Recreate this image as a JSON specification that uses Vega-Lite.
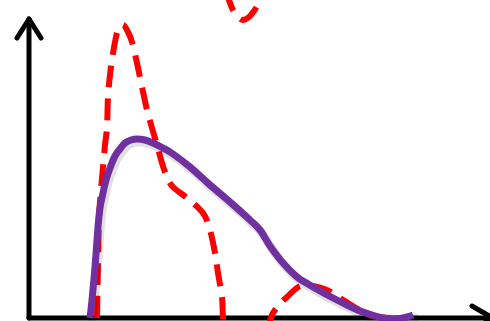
{
  "$schema": "https://vega.github.io/schema/vega-lite/v6.json",
  "width": 490,
  "height": 321,
  "padding": 0,
  "autosize": {"type": "none"},
  "background": "white",
  "config": {"view": {"stroke": null}},
  "datasets": {
    "axes": [
      {"seg": "yaxis", "i": 0, "x": 0, "y": 0},
      {"seg": "yaxis", "i": 1, "x": 0, "y": 29.9},
      {"seg": "yarrow", "i": 0, "x": -1.2, "y": 28.0},
      {"seg": "yarrow", "i": 1, "x": 0, "y": 29.9},
      {"seg": "yarrow", "i": 2, "x": 1.2, "y": 28.0},
      {"seg": "xaxis", "i": 0, "x": 0, "y": 0},
      {"seg": "xaxis", "i": 1, "x": 46.4, "y": 0},
      {"seg": "xarrow", "i": 0, "x": 44.3, "y": 1.2},
      {"seg": "xarrow", "i": 1, "x": 46.4, "y": 0},
      {"seg": "xarrow", "i": 2, "x": 44.3, "y": -1.2}
    ],
    "red": [
      {"seg": "main", "i": 0, "x": 6.8, "y": 0},
      {"seg": "main", "i": 1, "x": 6.85, "y": 2.8},
      {"seg": "main", "i": 2, "x": 6.9, "y": 5.8},
      {"seg": "main", "i": 3, "x": 7.0, "y": 10.1},
      {"seg": "main", "i": 4, "x": 7.2, "y": 12.8},
      {"seg": "main", "i": 5, "x": 7.4, "y": 15.1},
      {"seg": "main", "i": 6, "x": 7.6, "y": 17.3},
      {"seg": "main", "i": 7, "x": 7.8, "y": 19.1},
      {"seg": "main", "i": 8, "x": 7.9, "y": 22.1},
      {"seg": "main", "i": 9, "x": 8.1, "y": 24.3},
      {"seg": "main", "i": 10, "x": 8.3, "y": 25.8},
      {"seg": "main", "i": 11, "x": 8.6, "y": 27.6},
      {"seg": "main", "i": 12, "x": 8.9, "y": 28.8},
      {"seg": "main", "i": 13, "x": 9.4, "y": 29.3},
      {"seg": "main", "i": 14, "x": 9.9, "y": 28.6},
      {"seg": "main", "i": 15, "x": 10.3, "y": 27.6},
      {"seg": "main", "i": 16, "x": 10.8, "y": 25.5},
      {"seg": "main", "i": 17, "x": 11.3, "y": 23.1},
      {"seg": "main", "i": 18, "x": 11.8, "y": 20.8},
      {"seg": "main", "i": 19, "x": 12.3, "y": 19.0},
      {"seg": "main", "i": 20, "x": 12.8, "y": 17.3},
      {"seg": "main", "i": 21, "x": 13.3, "y": 15.5},
      {"seg": "main", "i": 22, "x": 13.8, "y": 14.1},
      {"seg": "main", "i": 23, "x": 14.4, "y": 13.1},
      {"seg": "main", "i": 24, "x": 15.8, "y": 12.0},
      {"seg": "main", "i": 25, "x": 17.4, "y": 10.5},
      {"seg": "main", "i": 26, "x": 18.1, "y": 8.8},
      {"seg": "main", "i": 27, "x": 18.6, "y": 6.5},
      {"seg": "main", "i": 28, "x": 18.9, "y": 4.5},
      {"seg": "main", "i": 29, "x": 19.3, "y": 2.1},
      {"seg": "main", "i": 30, "x": 19.4, "y": 0.1},
      {"seg": "main", "i": 31, "x": 19.7, "y": -1.7},
      {"seg": "main", "i": 32, "x": 21.6, "y": -3.4},
      {"seg": "main", "i": 33, "x": 23.6, "y": -2.0},
      {"seg": "main", "i": 34, "x": 24.1, "y": -0.3},
      {"seg": "main", "i": 35, "x": 24.4, "y": 0.5},
      {"seg": "main", "i": 36, "x": 25.1, "y": 1.4},
      {"seg": "main", "i": 37, "x": 25.8, "y": 2.1},
      {"seg": "main", "i": 38, "x": 27.1, "y": 3.2},
      {"seg": "main", "i": 39, "x": 28.4, "y": 3.2},
      {"seg": "main", "i": 40, "x": 29.8, "y": 2.8},
      {"seg": "main", "i": 41, "x": 31.1, "y": 2.0},
      {"seg": "main", "i": 42, "x": 33.4, "y": 0.6},
      {"seg": "main", "i": 43, "x": 34.8, "y": 0.1},
      {"seg": "main", "i": 44, "x": 36.8, "y": 0},
      {"seg": "top", "i": 0, "x": 19.7, "y": 32.8},
      {"seg": "top", "i": 1, "x": 20.0, "y": 31.8},
      {"seg": "top", "i": 2, "x": 20.4, "y": 30.8},
      {"seg": "top", "i": 3, "x": 20.9, "y": 30.1},
      {"seg": "top", "i": 4, "x": 21.4, "y": 29.8},
      {"seg": "top", "i": 5, "x": 22.0, "y": 30.1},
      {"seg": "top", "i": 6, "x": 22.5, "y": 30.7},
      {"seg": "top", "i": 7, "x": 22.9, "y": 31.4},
      {"seg": "top", "i": 8, "x": 23.3, "y": 32.3}
    ],
    "purple": [
      {"i": 0, "x": 6.1, "y": 0},
      {"i": 1, "x": 6.3, "y": 1.8},
      {"i": 2, "x": 6.6, "y": 5.1},
      {"i": 3, "x": 6.9, "y": 9.1},
      {"i": 4, "x": 7.1, "y": 11.0},
      {"i": 5, "x": 7.4, "y": 12.5},
      {"i": 6, "x": 7.7, "y": 13.8},
      {"i": 7, "x": 8.1, "y": 15.0},
      {"i": 8, "x": 8.6, "y": 16.2},
      {"i": 9, "x": 9.1, "y": 16.9},
      {"i": 10, "x": 9.6, "y": 17.5},
      {"i": 11, "x": 10.2, "y": 17.8},
      {"i": 12, "x": 10.8, "y": 17.9},
      {"i": 13, "x": 11.6, "y": 17.8},
      {"i": 14, "x": 12.4, "y": 17.5},
      {"i": 15, "x": 13.4, "y": 17.0},
      {"i": 16, "x": 14.4, "y": 16.4},
      {"i": 17, "x": 16.1, "y": 15.1},
      {"i": 18, "x": 18.1, "y": 13.3},
      {"i": 19, "x": 20.1, "y": 11.6},
      {"i": 20, "x": 22.1, "y": 9.8},
      {"i": 21, "x": 23.1, "y": 8.8},
      {"i": 22, "x": 24.1, "y": 7.2},
      {"i": 23, "x": 25.4, "y": 5.5},
      {"i": 24, "x": 26.8, "y": 4.1},
      {"i": 25, "x": 27.9, "y": 3.4},
      {"i": 26, "x": 29.1, "y": 2.7},
      {"i": 27, "x": 30.4, "y": 2.0},
      {"i": 28, "x": 31.8, "y": 1.3},
      {"i": 29, "x": 33.1, "y": 0.7},
      {"i": 30, "x": 34.3, "y": 0.3},
      {"i": 31, "x": 35.4, "y": 0},
      {"i": 32, "x": 36.3, "y": -0.1},
      {"i": 33, "x": 37.1, "y": -0.05},
      {"i": 34, "x": 37.8, "y": 0.1},
      {"i": 35, "x": 38.4, "y": 0.3}
    ]
  },
  "encoding": {
    "x": {"field": "x", "type": "quantitative", "scale": {"domain": [-2.9, 46.1], "nice": false, "zero": false}, "axis": null},
    "y": {"field": "y", "type": "quantitative", "scale": {"domain": [-0.3, 31.8], "nice": false, "zero": false}, "axis": null},
    "order": {"field": "i", "type": "quantitative"}
  },
  "layer": [
    {
      "data": {"name": "axes"},
      "mark": {"type": "line", "color": "black", "strokeWidth": 5, "strokeCap": "round", "strokeJoin": "round"},
      "encoding": {"detail": {"field": "seg", "type": "nominal"}}
    },
    {
      "data": {"name": "red"},
      "mark": {"type": "line", "color": "#FF0000", "strokeWidth": 6, "strokeDash": [22, 11], "interpolate": "cardinal"},
      "encoding": {"detail": {"field": "seg", "type": "nominal"}}
    },
    {
      "data": {"name": "purple"},
      "mark": {"type": "line", "color": "#000000", "opacity": 0.12, "strokeWidth": 9, "xOffset": 2, "yOffset": 3, "interpolate": "cardinal", "strokeCap": "round"}
    },
    {
      "data": {"name": "purple"},
      "mark": {"type": "line", "color": "#7030A0", "strokeWidth": 7, "interpolate": "cardinal", "strokeCap": "butt"}
    }
  ]
}
